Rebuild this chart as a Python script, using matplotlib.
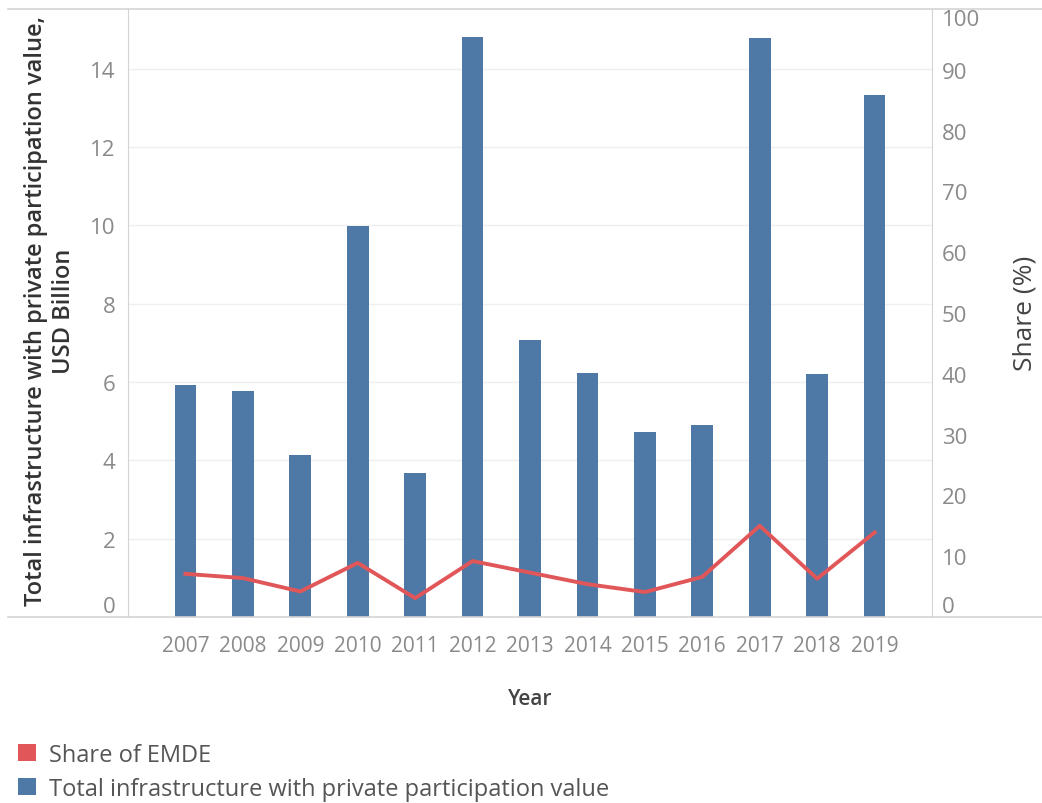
import matplotlib
matplotlib.use("Agg")
import matplotlib.pyplot as plt
from matplotlib.patches import Patch
from matplotlib.lines import Line2D

plt.rcParams['font.family'] = ['Open Sans', 'DejaVu Sans']

# data
years = [2007, 2008, 2009, 2010, 2011, 2012, 2013, 2014, 2015, 2016, 2017, 2018, 2019]
total_value = [5.93, 5.78, 4.14, 9.97, 3.68, 14.80, 7.06, 6.24, 4.73, 4.91, 14.77, 6.21, 13.33]
share_emde = [7.1, 6.4, 4.2, 8.9, 3.1, 9.2, 7.3, 5.4, 4.1, 6.6, 15.0, 6.3, 13.9]
left_ticks = [0, 2, 4, 6, 8, 10, 12, 14]
right_ticks = [0, 10, 20, 30, 40, 50, 60, 70, 80, 90, 100]

bar_color = '#4e79a7'
line_color = '#e15759'
tick_color = '#8a8a8a'
grid_color = '#efefef'
border_color = '#d4d4d4'

fig = plt.figure(figsize=(10.42, 8.04), dpi=100)
ax = fig.add_axes([128 / 1042, 1 - 618 / 804, (932 - 128) / 1042, (618 - 10) / 804])
ax2 = ax.twinx()

ax.bar(years, total_value, width=0.38, color=bar_color, zorder=3)
ax2.plot(years, share_emde, color=line_color, linewidth=2.8, zorder=4)

ax.set_xlim(2006, 2020)
ax.set_ylim(0, 15.52)
ax2.set_ylim(0, 100)

ax.set_xticks(years)
ax.set_xticklabels([str(y) for y in years])
ax.set_xticks(range(2008, 2020, 2), minor=True)
ax.set_yticks(left_ticks)
ax2.set_yticks(right_ticks)

ax.grid(axis='y', color=grid_color, linewidth=1, zorder=0)
ax.grid(axis='x', which='minor', color=grid_color, linewidth=1, zorder=0)
ax.set_axisbelow(True)

ax.tick_params(axis='x', which='both', length=0, pad=13, labelsize=15, labelcolor=tick_color)
ax.tick_params(axis='y', length=0, pad=9, labelsize=16, labelcolor=tick_color)
ax2.tick_params(axis='y', length=0, pad=7, labelsize=16, labelcolor=tick_color)

# edge labels sit inside the plot like in the reference
ax.yaxis.get_major_ticks()[0].label1.set_va('bottom')
ax2.yaxis.get_major_ticks()[0].label2.set_va('bottom')
ax2.yaxis.get_major_ticks()[-1].label2.set_va('top')

for a in (ax, ax2):
    for s in a.spines.values():
        s.set_visible(False)
ax.spines['left'].set_visible(True)
ax.spines['left'].set_color(border_color)
ax2.spines['right'].set_visible(True)
ax2.spines['right'].set_color(border_color)

# long top / bottom rules across the figure
for yy in (1 - 10 / 804, 1 - 618 / 804):
    fig.add_artist(Line2D([8 / 1042, 1], [yy, yy], color=border_color, linewidth=1.2))

fig.text(50 / 1042, 1 - 311 / 804,
         "Total infrastructure with private participation value,\nUSD Billion",
         rotation=90, ha='center', va='center', multialignment='center',
         fontsize=17, fontweight='semibold', color='#333333', linespacing=1.2)
fig.text(1025 / 1042, 1 - 313 / 804, "Share (%)", rotation=90,
         ha='center', va='center', fontsize=19, color='#444444')
fig.text(530 / 1042, 1 - 700 / 804, "Year", ha='center', va='center',
         fontsize=15, fontweight='semibold', color='#444444')

handles = [Patch(facecolor=line_color, edgecolor='none'),
           Patch(facecolor=bar_color, edgecolor='none')]
labels = ["Share of EMDE", "Total infrastructure with private participation value"]
fig.legend(handles, labels, loc='upper left', bbox_to_anchor=(18 / 1042, 1 - 744 / 804),
           frameon=False, fontsize=17, labelcolor='#555555',
           handlelength=0.75, handleheight=0.75, handletextpad=0.55,
           labelspacing=0.42, borderaxespad=0, borderpad=0)

fig.savefig("out.png", dpi=100, facecolor='white')
